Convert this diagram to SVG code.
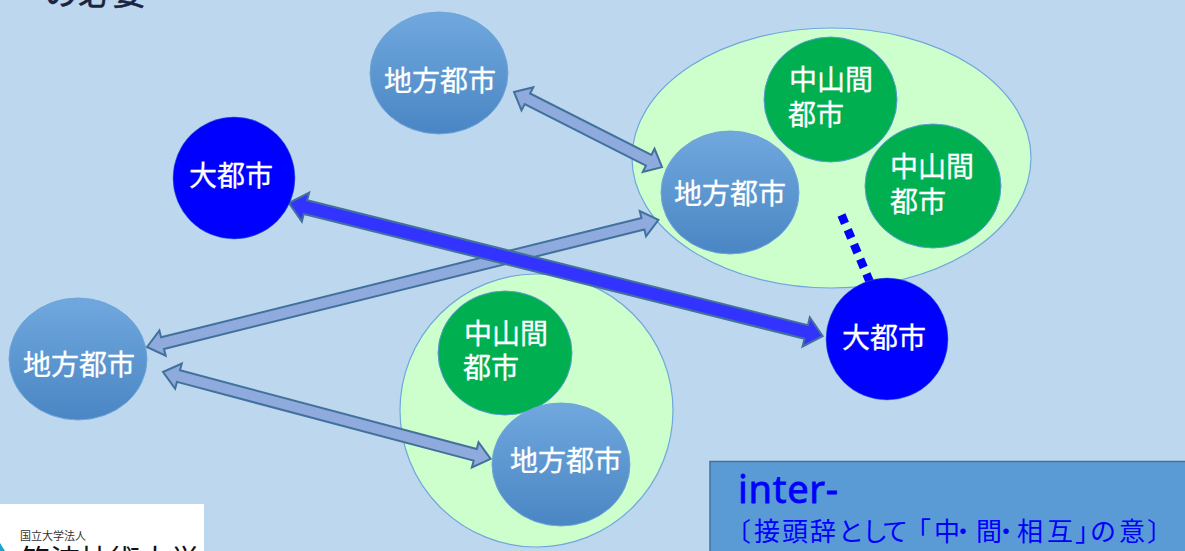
<svg xmlns="http://www.w3.org/2000/svg" width="1185" height="551" viewBox="0 0 1185 551">
<defs>
<linearGradient id="g" x1="0" y1="0" x2="0" y2="1"><stop offset="0" stop-color="#70a8de"/><stop offset="1" stop-color="#4a86c4"/></linearGradient>
</defs>
<style>
text{font-family:"Liberation Sans","Noto Sans CJK JP",sans-serif}
.t{fill:#fff;font-size:28px;text-anchor:middle;stroke:#fff;stroke-width:.3px}
.tl{fill:#fff;font-size:28px;stroke:#fff;stroke-width:.3px}
.inter{font-family:"Noto Sans",sans-serif;font-size:38px;fill:#0000ff;stroke:#0000ff;stroke-width:.8px}
.city{fill:url(#g);stroke:#6fa5d8;stroke-width:1}
.big{fill:#0000ff;stroke:#2f6fc0;stroke-width:.5}
.mid{fill:#00b050;stroke:#5b9bd5;stroke-width:1}
.zone{fill:#ccffcc;stroke:#6fa8dc;stroke-width:1.2}
.arr{fill:#8faadc;stroke:#41719c;stroke-width:2;stroke-linejoin:miter}
.arrb{fill:#3333ff;stroke:#41719c;stroke-width:2}
</style>
<rect width="1185" height="551" fill="#bdd7ee"/>
<text id="title" x="44" y="5" font-size="34" fill="#1a2440" stroke="#1a2440" stroke-width=".4">の必要</text>
<g id="logo">
<rect x="0" y="504" width="204" height="47" fill="#fff"/>
<path d="M0 543L5 551H0Z" fill="#19a7ce"/>
<text x="20" y="540" font-size="11" fill="#333">国立大学法人</text>
<text x="20" y="571" font-size="30" fill="#111">筑波技術大学</text>
</g>
<g id="zone-top"><ellipse class="zone" cx="831.500" cy="158" rx="199.500" ry="130"/></g>
<g id="zone-bottom"><circle class="zone" cx="536.500" cy="410.500" r="136.500"/></g>
<g id="connectors">
<polygon class="arr" transform="translate(514,92) rotate(26.9)" points="0,0 15,-13 15,-6 151,-6 151,-13 166,0 151,13 151,6 15,6 15,13"/>
<polygon class="arr" transform="translate(147,347) rotate(-13.96)" points="0,0 16,-13 16,-6 511,-6 511,-13 527,0 511,13 511,6 16,6 16,13"/>
<polygon class="arr" transform="translate(163,372) rotate(14.86)" points="0,0 16,-13 16,-6 323,-6 323,-13 339,0 323,13 323,6 16,6 16,13"/>
<polygon class="arrb" transform="translate(289,203) rotate(14.0)" points="0,0 17,-15 17,-7 533,-7 533,-15 550,0 533,15 533,7 17,7 17,15"/>
<line x1="841.500" y1="215" x2="872" y2="287" stroke="#0000ff" stroke-width="8.500" stroke-dasharray="9 7"/>
</g>
<g id="city-top"><ellipse class="city" cx="439" cy="73" rx="69" ry="61"/><text class="t" x="440" y="91">地方都市</text></g>
<g id="big-left"><circle class="big" cx="234" cy="178" r="61"/><text class="t" x="231" y="186">大都市</text></g>
<g id="mid-a"><ellipse class="mid" cx="830.500" cy="99.500" rx="66.500" ry="62.500"/><text class="tl" x="789" y="90">中山間</text><text class="tl" x="788" y="125">都市</text></g>
<g id="mid-b"><ellipse class="mid" cx="933" cy="186" rx="68" ry="62"/><text class="tl" x="890" y="177">中山間</text><text class="tl" x="890" y="212">都市</text></g>
<g id="city-right"><ellipse class="city" cx="730" cy="192.500" rx="69" ry="61.500"/><text class="t" x="730" y="204">地方都市</text></g>
<g id="big-right"><circle class="big" cx="887" cy="339" r="61"/><text class="t" x="884" y="348">大都市</text></g>
<g id="city-left"><ellipse class="city" cx="78" cy="359" rx="69" ry="61"/><text class="t" x="79" y="375">地方都市</text></g>
<g id="mid-c"><ellipse class="mid" cx="505" cy="353" rx="67" ry="62"/><text class="tl" x="464" y="344">中山間</text><text class="tl" x="463" y="378">都市</text></g>
<g id="city-bottom"><ellipse class="city" cx="561" cy="464.500" rx="69" ry="61.500"/><text class="t" x="566" y="471">地方都市</text></g>
<g id="note">
<rect x="710" y="461.500" width="480" height="95" fill="#5b9bd5" stroke="#41719c" stroke-width="1.500"/>
<text class="inter" x="738" y="503" textLength="100">inter-</text>
<text y="541" font-size="26" fill="#0000ff" x="725 754 782 810 838 862 882 905 934 950 976 993 1017 1047 1075 1090 1119 1147">〔接頭辞として「中・間・相互」の意〕</text>
</g>
</svg>
